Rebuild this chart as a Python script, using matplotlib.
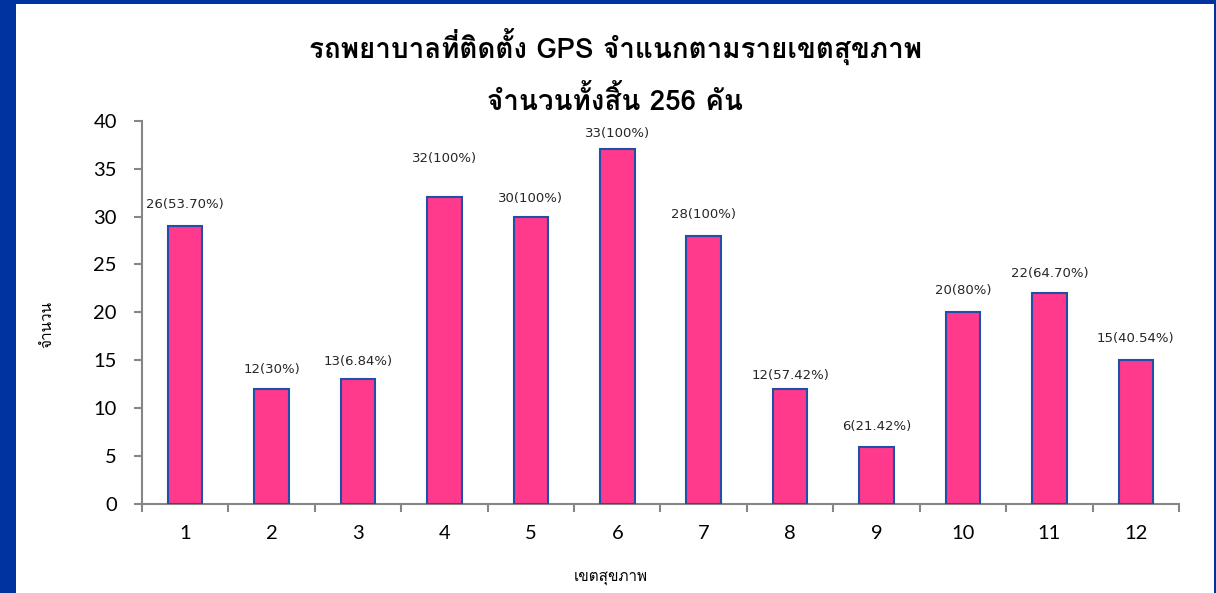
import matplotlib
matplotlib.use('Agg')
import matplotlib.pyplot as plt
from matplotlib import font_manager
from matplotlib.ft2font import FT2Font
from matplotlib.patches import Rectangle

# ---- data ----
regions = ['1', '2', '3', '4', '5', '6', '7', '8', '9', '10', '11', '12']
counts = [29, 12, 13, 32, 30, 37, 28, 12, 6, 20, 22, 15]
bar_labels = ['26(53.70%)', '12(30%)', '13(6.84%)', '32(100%)', '30(100%)', '33(100%)',
              '28(100%)', '12(57.42%)', '6(21.42%)', '20(80%)', '22(64.70%)', '15(40.54%)']
label_offsets_pt = [15.6, 14.4, 13.2, 28, 13, 11.5, 15, 9.4, 14.4, 15.8, 14.4, 15.8]
title_line1 = 'รถพยาบาลที่ติดตั้ง GPS จำแนกตามรายเขตสุขภาพ'
title_line2 = 'จำนวนทั้งสิ้น 256 คัน'
xlabel = 'เขตสุขภาพ'
ylabel = 'จำนวน'
yticks = [0, 5, 10, 15, 20, 25, 30, 35, 40]


def find_thai_fonts():
    names = []
    for f in font_manager.fontManager.ttflist:
        try:
            ft = FT2Font(f.fname)
            if 0x0E08 in ft.get_charmap() and f.name not in names:
                names.append(f.name)
        except Exception:
            pass
    return names

thai = find_thai_fonts()
fam = thai[:1] + ['DejaVu Sans']
plt.rcParams['font.family'] = fam
num_fam = ['Lato'] + fam
lab_fam = ['DejaVu Sans'] + fam

W, H = 1216, 593
fig = plt.figure(figsize=(W / 100, H / 100), dpi=100)
fig.patch.set_facecolor('#0033A0')
fig.patches.append(Rectangle((16 / W, 0), (1214 - 16) / W, (H - 4) / H,
                             transform=fig.transFigure, facecolor='white',
                             edgecolor='none', zorder=-10))

ax_left, ax_right = 142, 1179
ax_top, ax_bot = 120.7, 504
ax = fig.add_axes([ax_left / W, (H - ax_bot) / H, (ax_right - ax_left) / W, (ax_bot - ax_top) / H])
ax.set_zorder(5)
ax.set_facecolor('none')

x = list(range(1, len(regions) + 1))
bars = ax.bar(x, counts, width=0.4, color='#FF3A8C', edgecolor='#1F4FA8', linewidth=1.5, zorder=3)
for xi, c, lab, off in zip(x, counts, bar_labels, label_offsets_pt):
    ax.annotate(lab, (xi, c), xytext=(0, off), textcoords='offset points',
                ha='center', va='center', fontsize=9.5, color='#262626', family=lab_fam)

ax.set_xlim(0.5, len(regions) + 0.5)
ax.set_ylim(0, 40)
ax.set_yticks(yticks)
ax.set_yticklabels([str(v) for v in yticks], fontsize=14.5, family=num_fam)

ax.set_xticks([i + 0.5 for i in range(0, len(regions) + 1)])
ax.set_xticklabels([])
ax.set_xticks(x, minor=True)
ax.set_xticklabels(regions, minor=True, fontsize=14.5, family=num_fam)
ax.tick_params(axis='x', which='major', length=6, width=1.5, color='#868686', direction='out')
ax.tick_params(axis='x', which='minor', length=0, pad=15)
ax.tick_params(axis='y', length=6, width=1.5, color='#868686', direction='out', pad=12)

for s in ['top', 'right']:
    ax.spines[s].set_visible(False)
for s in ['left', 'bottom']:
    ax.spines[s].set_color('#868686')
    ax.spines[s].set_linewidth(1.5)

fig.text(615 / W, 1 - 47 / H, title_line1, ha='center', va='center', fontsize=20, fontweight='bold')
fig.text(615 / W, 1 - 100 / H, title_line2, ha='center', va='center', fontsize=20, fontweight='bold')
fig.text(611 / W, 1 - 578 / H, xlabel, ha='center', va='center', fontsize=11)
fig.text(47 / W, 1 - 325 / H, ylabel, ha='center', va='center', fontsize=11, rotation=90)

fig.savefig('out.png', dpi=100, facecolor=fig.get_facecolor())
